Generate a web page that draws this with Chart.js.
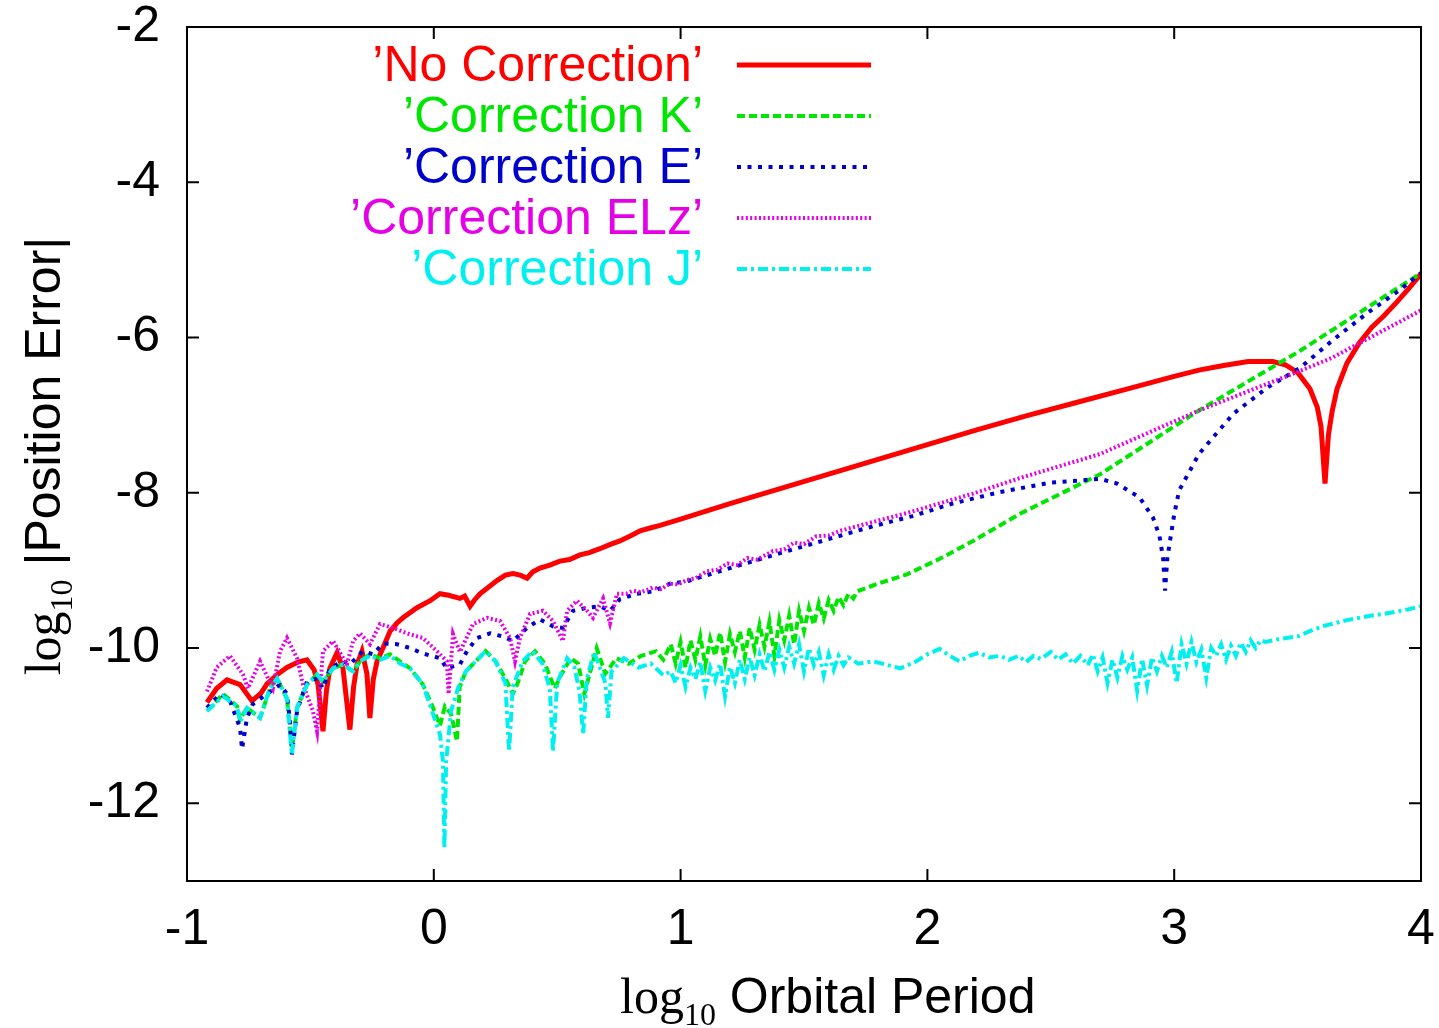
<!DOCTYPE html>
<html>
<head>
<meta charset="utf-8">
<script src="https://cdn.jsdelivr.net/npm/chart.js@4.4.1/dist/chart.umd.min.js"></script>
<style>
html,body{margin:0;padding:0;background:#fff;}
#wrap{width:1439px;height:1028px;position:relative;}
</style>
</head>
<body>
<div id="wrap"><canvas id="c" width="1439" height="1028"></canvas></div>
<script>
// ---------- data (log10 orbital period, log10 |position error|) ----------
const xTicks = [-1, 0, 1, 2, 3, 4];
const yTicks = [-12, -10, -8, -6, -4, -2];
const seriesLabels = ["\u2019No Correction\u2019", "\u2019Correction K\u2019", "\u2019Correction E\u2019", "\u2019Correction ELz\u2019", "\u2019Correction J\u2019"];

const noCorrX = [-0.919,-0.88,-0.838,-0.785,-0.737,-0.70,-0.676,-0.63,-0.595,-0.55,-0.514,-0.485,-0.469,-0.449,-0.435,-0.421,-0.392,-0.368,-0.340,-0.325,-0.311,-0.291,-0.271,-0.259,-0.245,-0.230,-0.206,-0.177,-0.150,-0.125,-0.068,-0.015,0.025,0.06,0.106,0.125,0.147,0.165,0.187,0.22,0.256,0.29,0.321,0.35,0.378,0.40,0.430,0.47,0.511,0.55,0.592,0.63,0.673,0.71,0.754,0.80,0.836,0.88,0.917,1.0,1.2,1.4,1.6,1.8,2.0,2.2,2.4,2.6,2.8,3.0,3.1,3.2,3.3,3.4,3.45,3.5,3.55,3.58,3.595,3.611,3.625,3.64,3.66,3.7,3.75,3.8,3.85,3.9,3.95,4.0];
const noCorrY = [-10.70,-10.52,-10.41,-10.47,-10.68,-10.58,-10.46,-10.33,-10.25,-10.18,-10.15,-10.28,-10.47,-11.07,-10.55,-10.26,-10.06,-10.26,-11.05,-10.50,-10.21,-10.04,-10.33,-10.90,-10.40,-10.17,-10.00,-9.78,-9.68,-9.61,-9.48,-9.39,-9.30,-9.32,-9.36,-9.33,-9.46,-9.38,-9.30,-9.22,-9.13,-9.06,-9.04,-9.06,-9.10,-9.02,-8.97,-8.93,-8.88,-8.86,-8.80,-8.77,-8.72,-8.67,-8.62,-8.55,-8.49,-8.45,-8.42,-8.34,-8.14,-7.95,-7.76,-7.57,-7.38,-7.19,-7.01,-6.84,-6.67,-6.50,-6.42,-6.36,-6.31,-6.31,-6.35,-6.45,-6.66,-6.90,-7.15,-7.88,-7.25,-6.95,-6.66,-6.33,-6.07,-5.87,-5.72,-5.55,-5.37,-5.18];

const corrKX = [-0.919,-0.854,-0.797,-0.785,-0.757,-0.704,-0.664,-0.635,-0.595,-0.575,-0.554,-0.514,-0.473,-0.449,-0.408,-0.368,-0.327,-0.299,-0.259,-0.218,-0.177,-0.137,-0.096,-0.044,-0.003,0.025,0.045,0.07,0.094,0.105,0.13,0.17,0.21,0.25,0.29,0.32,0.34,0.37,0.41,0.45,0.49,0.515,0.555,0.585,0.61,0.63,0.66,0.695,0.74,0.79,0.84,0.90,0.93,0.96,0.98,1.00,1.02,1.04,1.06,1.08,1.10,1.12,1.14,1.16,1.18,1.20,1.22,1.24,1.26,1.28,1.30,1.32,1.34,1.36,1.38,1.40,1.42,1.44,1.46,1.48,1.50,1.52,1.54,1.56,1.58,1.60,1.62,1.64,1.66,1.68,1.70,1.715,1.80,1.917,2.05,2.185,2.375,2.70,3.10,3.51,4.0];
const corrKY = [-10.81,-10.59,-10.75,-10.92,-10.77,-10.90,-10.52,-10.39,-10.65,-11.30,-10.77,-10.47,-10.34,-10.43,-10.26,-10.21,-10.30,-10.17,-10.08,-10.13,-10.08,-10.17,-10.26,-10.47,-10.77,-11.00,-10.75,-10.85,-11.20,-10.50,-10.30,-10.17,-10.04,-10.17,-10.39,-10.59,-10.45,-10.17,-10.04,-10.20,-10.52,-10.35,-10.13,-10.20,-10.59,-10.35,-10.00,-10.33,-10.13,-10.20,-10.10,-10.04,-10.15,-9.95,-10.20,-9.92,-10.25,-9.90,-10.15,-9.85,-10.22,-9.88,-10.10,-9.80,-10.18,-9.82,-10.05,-9.78,-10.12,-9.74,-10.02,-9.70,-9.98,-9.66,-10.10,-9.64,-9.90,-9.58,-9.95,-9.52,-9.78,-9.48,-9.70,-9.42,-9.62,-9.38,-9.52,-9.34,-9.45,-9.30,-9.36,-9.27,-9.17,-9.05,-8.85,-8.62,-8.27,-7.76,-6.94,-6.17,-5.17];

const corrEX = [-0.919,-0.866,-0.826,-0.785,-0.777,-0.757,-0.733,-0.676,-0.623,-0.595,-0.583,-0.575,-0.554,-0.514,-0.473,-0.449,-0.421,-0.368,-0.34,-0.287,-0.246,-0.206,-0.149,-0.096,-0.044,0.025,0.053,0.106,0.134,0.175,0.228,0.28,0.321,0.378,0.43,0.483,0.523,0.564,0.621,0.673,0.714,0.754,0.823,0.888,0.957,1.026,1.2,1.4,1.617,1.78,1.94,2.10,2.294,2.497,2.70,2.768,2.86,2.914,2.94,2.955,2.963,2.972,2.983,3.0,3.02,3.10,3.24,3.375,3.51,3.64,3.78,3.90,4.0];
const corrEY = [-10.77,-10.59,-10.68,-11.03,-11.30,-10.90,-10.72,-10.59,-10.47,-10.59,-10.94,-11.37,-10.81,-10.43,-10.39,-10.52,-10.26,-10.17,-10.21,-10.04,-10.08,-9.94,-9.95,-10.00,-10.07,-10.13,-10.26,-10.21,-10.04,-9.87,-9.81,-9.85,-9.91,-9.74,-9.63,-9.72,-9.74,-9.52,-9.48,-9.46,-9.52,-9.37,-9.30,-9.27,-9.17,-9.14,-8.97,-8.78,-8.58,-8.43,-8.30,-8.14,-7.99,-7.87,-7.82,-7.88,-8.06,-8.32,-8.55,-8.84,-9.26,-8.85,-8.62,-8.28,-7.97,-7.50,-6.98,-6.65,-6.39,-6.04,-5.69,-5.42,-5.17];

const corrELzX = [-0.919,-0.88,-0.826,-0.773,-0.753,-0.704,-0.652,-0.623,-0.595,-0.554,-0.53,-0.49,-0.473,-0.449,-0.408,-0.352,-0.327,-0.299,-0.259,-0.218,-0.165,-0.109,-0.044,0.013,0.053,0.06,0.078,0.106,0.159,0.216,0.268,0.309,0.329,0.349,0.39,0.442,0.483,0.523,0.54,0.58,0.621,0.645,0.686,0.714,0.742,0.78,0.807,0.84,0.888,0.92,0.957,0.99,1.026,1.06,1.107,1.15,1.19,1.23,1.27,1.31,1.374,1.42,1.46,1.50,1.55,1.60,1.646,1.75,1.917,2.185,2.375,2.70,3.10,3.51,3.64,4.0];
const corrELzY = [-10.56,-10.25,-10.10,-10.34,-10.52,-10.17,-10.52,-10.04,-9.87,-10.13,-10.47,-10.81,-11.07,-10.04,-9.91,-10.21,-9.91,-9.81,-9.95,-9.69,-9.74,-9.81,-9.87,-10.04,-10.17,-10.59,-9.82,-10.05,-9.69,-9.61,-9.65,-9.87,-10.17,-9.87,-9.56,-9.52,-9.65,-9.91,-9.52,-9.39,-9.52,-9.61,-9.36,-9.68,-9.30,-9.30,-9.26,-9.28,-9.22,-9.24,-9.17,-9.18,-9.12,-9.10,-9.01,-8.99,-8.91,-8.93,-8.84,-8.86,-8.75,-8.73,-8.64,-8.66,-8.56,-8.55,-8.49,-8.40,-8.26,-8.01,-7.81,-7.50,-6.94,-6.43,-6.26,-5.65];

const corrJX = [-0.919,-0.854,-0.797,-0.785,-0.757,-0.704,-0.664,-0.635,-0.595,-0.575,-0.554,-0.514,-0.473,-0.449,-0.408,-0.368,-0.327,-0.299,-0.259,-0.218,-0.177,-0.137,-0.096,-0.044,-0.003,0.025,0.037,0.043,0.05,0.07,0.10,0.13,0.17,0.21,0.25,0.29,0.305,0.32,0.36,0.40,0.44,0.47,0.483,0.50,0.54,0.57,0.59,0.605,0.62,0.65,0.695,0.706,0.72,0.77,0.83,0.88,0.93,0.96,0.98,1.00,1.02,1.04,1.06,1.08,1.10,1.12,1.14,1.16,1.18,1.20,1.22,1.24,1.26,1.28,1.30,1.32,1.34,1.36,1.38,1.40,1.42,1.44,1.46,1.48,1.50,1.52,1.54,1.56,1.58,1.60,1.62,1.64,1.66,1.68,1.72,1.78,1.84,1.89,1.95,2.00,2.05,2.09,2.13,2.17,2.21,2.25,2.294,2.33,2.37,2.40,2.43,2.46,2.50,2.53,2.56,2.59,2.62,2.65,2.67,2.69,2.71,2.73,2.75,2.77,2.79,2.81,2.83,2.85,2.87,2.89,2.91,2.93,2.95,2.97,2.99,3.01,3.03,3.05,3.07,3.09,3.11,3.13,3.15,3.17,3.19,3.21,3.23,3.25,3.27,3.29,3.31,3.33,3.35,3.37,3.43,3.50,3.55,3.60,3.65,3.70,3.75,3.80,3.85,3.90,3.95,4.0];
const corrJY = [-10.81,-10.62,-10.75,-10.95,-10.77,-10.90,-10.52,-10.39,-10.65,-11.37,-10.77,-10.47,-10.34,-10.43,-10.26,-10.21,-10.30,-10.17,-10.10,-10.15,-10.10,-10.20,-10.26,-10.47,-10.85,-11.11,-11.46,-12.58,-11.46,-10.81,-10.50,-10.30,-10.17,-10.04,-10.17,-10.45,-11.33,-10.50,-10.17,-10.04,-10.20,-10.52,-11.33,-10.45,-10.13,-10.25,-10.55,-11.11,-10.40,-10.05,-10.45,-10.90,-10.30,-10.13,-10.25,-10.20,-10.35,-10.30,-10.45,-10.22,-10.50,-10.25,-10.40,-10.18,-10.55,-10.25,-10.42,-10.20,-10.62,-10.24,-10.45,-10.15,-10.40,-10.12,-10.35,-10.08,-10.30,-10.05,-10.28,-10.02,-10.25,-9.98,-10.20,-9.95,-10.30,-10.00,-10.22,-10.05,-10.35,-10.08,-10.28,-10.10,-10.22,-10.12,-10.20,-10.17,-10.22,-10.26,-10.18,-10.08,-10.01,-10.10,-10.17,-10.10,-10.06,-10.12,-10.10,-10.15,-10.10,-10.18,-10.10,-10.14,-10.05,-10.15,-10.08,-10.20,-10.10,-10.22,-10.08,-10.30,-10.12,-10.45,-10.15,-10.38,-10.10,-10.28,-10.12,-10.55,-10.14,-10.48,-10.12,-10.30,-10.10,-10.25,-10.05,-10.45,-9.95,-10.20,-9.92,-10.18,-10.02,-10.38,-10.00,-10.10,-9.95,-10.15,-9.97,-10.10,-9.93,-10.05,-9.90,-10.00,-9.90,-9.92,-9.88,-9.85,-9.78,-9.72,-9.68,-9.64,-9.61,-9.58,-9.56,-9.53,-9.50,-9.46];

const toPts = (xs, ys) => xs.map((x, i) => ({ x: x, y: ys[i] }));

// ---------- styles ----------
const colors = ['#ff0000', '#00e600', '#0000cc', '#e600e6', '#00f0f0'];
const dashes = [[], [8, 4], [4, 6.5], [2, 2.4], [10, 4, 3, 4]];
const widths = [5, 4, 4, 4, 4];
const seriesX = [noCorrX, corrKX, corrEX, corrELzX, corrJX];
const seriesY = [noCorrY, corrKY, corrEY, corrELzY, corrJY];

const datasets = seriesLabels.map((lab, i) => ({
  label: lab,
  data: toPts(seriesX[i], seriesY[i]),
  showLine: true,
  borderColor: colors[i],
  backgroundColor: colors[i],
  borderWidth: widths[i],
  borderDash: dashes[i],
  borderCapStyle: 'butt',
  borderJoinStyle: 'miter',
  pointRadius: 0,
  pointHoverRadius: 0,
  tension: 0,
  fill: false,
  order: seriesLabels.length - i
}));

const SANS = '"Liberation Sans", Arial, Helvetica, sans-serif';
const SERIF = '"Liberation Serif", "Times New Roman", serif';

function drawParts(ctx, parts, x0, y0) {
  let x = x0;
  parts.forEach(p => {
    ctx.font = p.font;
    ctx.fillText(p.t, x, y0 + p.dy);
    x += ctx.measureText(p.t).width;
  });
}
function partsWidth(ctx, parts) {
  let w = 0;
  parts.forEach(p => { ctx.font = p.font; w += ctx.measureText(p.t).width; });
  return w;
}

const decor = {
  id: 'decor',
  afterDraw(chart) {
    const { ctx, chartArea: a, scales } = chart;
    const xs = scales.x, ys = scales.y;
    ctx.save();
    // frame
    ctx.setLineDash([]);
    ctx.strokeStyle = '#000';
    ctx.lineWidth = 2;
    ctx.strokeRect(a.left, a.top, a.right - a.left, a.bottom - a.top);
    // inward mirrored ticks
    const tl = 12;
    ctx.beginPath();
    xs.ticks.forEach(t => {
      const px = xs.getPixelForValue(t.value);
      ctx.moveTo(px, a.bottom); ctx.lineTo(px, a.bottom - tl);
      ctx.moveTo(px, a.top); ctx.lineTo(px, a.top + tl);
    });
    ys.ticks.forEach(t => {
      const py = ys.getPixelForValue(t.value);
      ctx.moveTo(a.left, py); ctx.lineTo(a.left + tl, py);
      ctx.moveTo(a.right, py); ctx.lineTo(a.right - tl, py);
    });
    ctx.stroke();

    // legend (text right aligned, sample on the right)
    const textRight = a.left + 516;
    const sx0 = a.left + 550, sx1 = a.left + 684;
    chart.data.datasets.forEach((ds, i) => {
      const yy = a.top + 38 + i * 51;
      ctx.font = '50px ' + SANS;
      ctx.fillStyle = ds.borderColor;
      ctx.textAlign = 'right';
      ctx.textBaseline = 'middle';
      ctx.fillText(ds.label, textRight, yy + 2);
      ctx.beginPath();
      ctx.strokeStyle = ds.borderColor;
      ctx.lineWidth = ds.borderWidth;
      ctx.lineCap = 'butt';
      ctx.setLineDash(ds.borderDash || []);
      ctx.moveTo(sx0, yy); ctx.lineTo(sx1, yy);
      ctx.stroke();
    });
    ctx.setLineDash([]);

    // axis titles
    ctx.fillStyle = '#000';
    ctx.textAlign = 'left';
    ctx.textBaseline = 'alphabetic';
    const xParts = [
      { t: 'log', font: '50px ' + SERIF, dy: 0 },
      { t: '10', font: '32px ' + SERIF, dy: 12 },
      { t: ' Orbital Period', font: '50px ' + SANS, dy: 0 }
    ];
    drawParts(ctx, xParts, 620, 1013);

    const yParts = [
      { t: 'log', font: '50px ' + SERIF, dy: 0 },
      { t: '10', font: '32px ' + SERIF, dy: 12 },
      { t: ' |Position Error|', font: '50px ' + SANS, dy: 0 }
    ];
    const w = partsWidth(ctx, yParts);
    ctx.translate(60, 456);
    ctx.rotate(-Math.PI / 2);
    drawParts(ctx, yParts, -w / 2, 0);
    ctx.restore();
  }
};

Chart.defaults.font.family = SANS;

new Chart(document.getElementById('c'), {
  type: 'scatter',
  data: { datasets: datasets },
  options: {
    responsive: false,
    animation: false,
    events: [],
    layout: { padding: { top: 27, right: 18, left: 0, bottom: 0 } },
    plugins: { legend: { display: false }, tooltip: { enabled: false }, title: { display: false } },
    scales: {
      x: {
        type: 'linear', min: -1, max: 4,
        afterBuildTicks: s => { s.ticks = xTicks.map(v => ({ value: v })); },
        afterFit: s => { s.height = 147; s.paddingLeft = 0; s.paddingRight = 0; s.paddingTop = 0; s.paddingBottom = 0; },
        grid: { display: false, drawTicks: false },
        border: { display: false },
        ticks: { color: '#000', font: { size: 50, lineHeight: 1 }, padding: 24, maxRotation: 0, autoSkip: false }
      },
      y: {
        type: 'linear', min: -13, max: -2,
        afterBuildTicks: s => { s.ticks = yTicks.map(v => ({ value: v })); },
        afterFit: s => { s.width = 187; s.paddingLeft = 0; s.paddingRight = 0; s.paddingTop = 0; s.paddingBottom = 0; },
        grid: { display: false, drawTicks: false },
        border: { display: false },
        ticks: { color: '#000', font: { size: 50, lineHeight: 1 }, padding: 27, autoSkip: false }
      }
    }
  },
  plugins: [decor]
});
</script>
</body>
</html>
